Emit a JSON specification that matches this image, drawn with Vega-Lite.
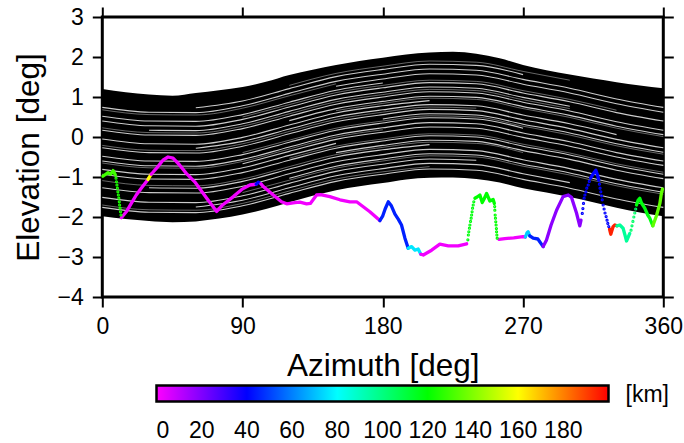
{
  "$schema": "https://vega.github.io/schema/vega-lite/v6.json",
  "width": 561,
  "height": 280,
  "autosize": {"type": "none"},
  "padding": {"left": 102.3, "top": 17, "right": 20.7, "bottom": 146},
  "config": {
    "font": "Liberation Sans",
    "view": {"stroke": "#000", "strokeWidth": 3},
    "axis": {
      "domain": false,
      "grid": false,
      "tickColor": "#000",
      "tickWidth": 2,
      "tickSize": 10,
      "labelColor": "#000",
      "labelFontSize": 23,
      "labelFlush": false,
      "titleFontSize": 31.5,
      "titleFontWeight": "normal",
      "titleColor": "#000"
    }
  },
  "datasets": {
    "band": [
      {"az": 0, "lo": -1.98, "hi": 1.20},
      {"az": 15, "lo": -2.05, "hi": 1.12},
      {"az": 30, "lo": -2.10, "hi": 1.06},
      {"az": 45, "lo": -2.13, "hi": 1.03},
      {"az": 60, "lo": -2.11, "hi": 1.10},
      {"az": 75, "lo": -2.04, "hi": 1.17},
      {"az": 90, "lo": -1.94, "hi": 1.25},
      {"az": 105, "lo": -1.80, "hi": 1.38},
      {"az": 120, "lo": -1.63, "hi": 1.55},
      {"az": 135, "lo": -1.47, "hi": 1.68},
      {"az": 150, "lo": -1.33, "hi": 1.80},
      {"az": 165, "lo": -1.23, "hi": 1.90},
      {"az": 180, "lo": -1.15, "hi": 1.98},
      {"az": 195, "lo": -1.06, "hi": 2.06},
      {"az": 210, "lo": -1.02, "hi": 2.11},
      {"az": 225, "lo": -1.01, "hi": 2.13},
      {"az": 240, "lo": -1.05, "hi": 2.08},
      {"az": 255, "lo": -1.14, "hi": 1.97},
      {"az": 270, "lo": -1.28, "hi": 1.80},
      {"az": 285, "lo": -1.39, "hi": 1.67},
      {"az": 300, "lo": -1.50, "hi": 1.56},
      {"az": 315, "lo": -1.63, "hi": 1.46},
      {"az": 330, "lo": -1.77, "hi": 1.37},
      {"az": 345, "lo": -1.89, "hi": 1.29},
      {"az": 360, "lo": -1.98, "hi": 1.22}
    ],
    "gaps": [
      {"s":1,"az":0,"el":-1.76},{"s":1,"az":30,"el":-1.88},{"s":1,"az":60,"el":-1.89},{"s":1,"az":90,"el":-1.72},{"s":1,"az":120,"el":-1.41},{"s":1,"az":150,"el":-1.11},{"s":1,"az":180,"el":-0.93},{"s":1,"az":210,"el":-0.80},{"s":1,"az":240,"el":-0.83},{"s":1,"az":270,"el":-1.06},{"s":1,"az":300,"el":-1.28},{"s":1,"az":330,"el":-1.55},{"s":1,"az":360,"el":-1.76},
      {"s":2,"az":60,"el":-1.75},{"s":2,"az":90,"el":-1.58},{"s":2,"az":120,"el":-1.27},{"s":2,"az":150,"el":-0.97},{"s":2,"az":180,"el":-0.79},{"s":2,"az":210,"el":-0.66},{"s":2,"az":240,"el":-0.69},{"s":2,"az":270,"el":-0.92},{"s":2,"az":300,"el":-1.14},
      {"s":3,"az":0,"el":-1.51},{"s":3,"az":30,"el":-1.63},{"s":3,"az":60,"el":-1.64},{"s":3,"az":90,"el":-1.47},{"s":3,"az":120,"el":-1.16},{"s":3,"az":150,"el":-0.86},{"s":3,"az":180,"el":-0.68},{"s":3,"az":210,"el":-0.55},{"s":3,"az":240,"el":-0.58},
      {"s":4,"az":120,"el":-1.03},{"s":4,"az":150,"el":-0.73},{"s":4,"az":180,"el":-0.55},{"s":4,"az":210,"el":-0.42},{"s":4,"az":240,"el":-0.45},{"s":4,"az":270,"el":-0.68},{"s":4,"az":300,"el":-0.90},{"s":4,"az":330,"el":-1.17},{"s":4,"az":360,"el":-1.38},
      {"s":5,"az":0,"el":-1.27},{"s":5,"az":30,"el":-1.39},{"s":5,"az":60,"el":-1.40},{"s":5,"az":90,"el":-1.23},{"s":5,"az":120,"el":-0.92},{"s":5,"az":150,"el":-0.62},{"s":5,"az":180,"el":-0.44},{"s":5,"az":210,"el":-0.31},{"s":5,"az":240,"el":-0.34},{"s":5,"az":270,"el":-0.57},{"s":5,"az":300,"el":-0.79},{"s":5,"az":330,"el":-1.06},{"s":5,"az":360,"el":-1.27},
      {"s":6,"az":30,"el":-1.27},{"s":6,"az":60,"el":-1.28},{"s":6,"az":90,"el":-1.11},{"s":6,"az":120,"el":-0.80},{"s":6,"az":150,"el":-0.50},{"s":6,"az":180,"el":-0.32},{"s":6,"az":210,"el":-0.19},
      {"s":7,"az":150,"el":-0.39},{"s":7,"az":180,"el":-0.21},{"s":7,"az":210,"el":-0.08},{"s":7,"az":240,"el":-0.11},{"s":7,"az":270,"el":-0.34},{"s":7,"az":300,"el":-0.56},{"s":7,"az":330,"el":-0.83},{"s":7,"az":360,"el":-1.04},
      {"s":8,"az":0,"el":-0.93},{"s":8,"az":30,"el":-1.05},{"s":8,"az":60,"el":-1.06},{"s":8,"az":90,"el":-0.89},{"s":8,"az":120,"el":-0.58},{"s":8,"az":150,"el":-0.28},{"s":8,"az":180,"el":-0.10},{"s":8,"az":210,"el":0.03},{"s":8,"az":240,"el":0.00},{"s":8,"az":270,"el":-0.23},{"s":8,"az":300,"el":-0.45},{"s":8,"az":330,"el":-0.72},{"s":8,"az":360,"el":-0.93},
      {"s":9,"az":0,"el":-0.81},{"s":9,"az":30,"el":-0.93},{"s":9,"az":60,"el":-0.94},{"s":9,"az":90,"el":-0.77},{"s":9,"az":120,"el":-0.46},{"s":9,"az":150,"el":-0.16},
      {"s":10,"az":90,"el":-0.67},{"s":10,"az":120,"el":-0.36},{"s":10,"az":150,"el":-0.06},{"s":10,"az":180,"el":0.12},{"s":10,"az":210,"el":0.25},{"s":10,"az":240,"el":0.22},{"s":10,"az":270,"el":-0.01},{"s":10,"az":300,"el":-0.23},{"s":10,"az":330,"el":-0.50},{"s":10,"az":360,"el":-0.71},
      {"s":11,"az":0,"el":-0.60},{"s":11,"az":30,"el":-0.72},{"s":11,"az":60,"el":-0.73},{"s":11,"az":90,"el":-0.56},{"s":11,"az":120,"el":-0.25},{"s":11,"az":150,"el":0.05},{"s":11,"az":180,"el":0.23},{"s":11,"az":210,"el":0.36},{"s":11,"az":240,"el":0.33},{"s":11,"az":270,"el":0.10},{"s":11,"az":300,"el":-0.12},{"s":11,"az":330,"el":-0.39},{"s":11,"az":360,"el":-0.60},
      {"s":12,"az":0,"el":-0.48},{"s":12,"az":30,"el":-0.60},{"s":12,"az":60,"el":-0.61},{"s":12,"az":90,"el":-0.44},{"s":12,"az":120,"el":-0.13},{"s":12,"az":150,"el":0.17},{"s":12,"az":180,"el":0.35},{"s":12,"az":210,"el":0.48},{"s":12,"az":240,"el":0.45},{"s":12,"az":270,"el":0.22},
      {"s":13,"az":180,"el":0.45},{"s":13,"az":210,"el":0.58},{"s":13,"az":240,"el":0.55},{"s":13,"az":270,"el":0.32},{"s":13,"az":300,"el":0.10},{"s":13,"az":330,"el":-0.17},{"s":13,"az":360,"el":-0.38},
      {"s":14,"az":0,"el":-0.27},{"s":14,"az":30,"el":-0.39},{"s":14,"az":60,"el":-0.40},{"s":14,"az":90,"el":-0.23},{"s":14,"az":120,"el":0.08},{"s":14,"az":150,"el":0.38},{"s":14,"az":180,"el":0.56},{"s":14,"az":210,"el":0.69},{"s":14,"az":240,"el":0.66},{"s":14,"az":270,"el":0.43},{"s":14,"az":300,"el":0.21},{"s":14,"az":330,"el":-0.06},{"s":14,"az":360,"el":-0.27},
      {"s":15,"az":60,"el":-0.28},{"s":15,"az":90,"el":-0.11},{"s":15,"az":120,"el":0.20},{"s":15,"az":150,"el":0.50},{"s":15,"az":180,"el":0.68},{"s":15,"az":210,"el":0.81},{"s":15,"az":240,"el":0.78},{"s":15,"az":270,"el":0.55},{"s":15,"az":300,"el":0.33},{"s":15,"az":330,"el":0.06},
      {"s":16,"az":0,"el":-0.05},{"s":16,"az":30,"el":-0.17},{"s":16,"az":60,"el":-0.18},{"s":16,"az":90,"el":-0.01},{"s":16,"az":120,"el":0.30},{"s":16,"az":150,"el":0.60},{"s":16,"az":180,"el":0.78},{"s":16,"az":210,"el":0.91},
      {"s":17,"az":120,"el":0.41},{"s":17,"az":150,"el":0.71},{"s":17,"az":180,"el":0.89},{"s":17,"az":210,"el":1.02},{"s":17,"az":240,"el":0.99},{"s":17,"az":270,"el":0.76},{"s":17,"az":300,"el":0.54},{"s":17,"az":330,"el":0.27},{"s":17,"az":360,"el":0.06},
      {"s":18,"az":0,"el":0.17},{"s":18,"az":30,"el":0.05},{"s":18,"az":60,"el":0.04},{"s":18,"az":90,"el":0.21},{"s":18,"az":120,"el":0.52},{"s":18,"az":150,"el":0.82},{"s":18,"az":180,"el":1.00},{"s":18,"az":210,"el":1.13},{"s":18,"az":240,"el":1.10},{"s":18,"az":270,"el":0.87},{"s":18,"az":300,"el":0.65},{"s":18,"az":330,"el":0.38},{"s":18,"az":360,"el":0.17},
      {"s":19,"az":30,"el":0.17},{"s":19,"az":60,"el":0.16},{"s":19,"az":90,"el":0.33},{"s":19,"az":120,"el":0.64},{"s":19,"az":150,"el":0.94},{"s":19,"az":180,"el":1.12},{"s":19,"az":210,"el":1.25},{"s":19,"az":240,"el":1.22},{"s":19,"az":270,"el":0.99},{"s":19,"az":300,"el":0.77},
      {"s":20,"az":0,"el":0.40},{"s":20,"az":30,"el":0.28},{"s":20,"az":60,"el":0.27},{"s":20,"az":90,"el":0.44},{"s":20,"az":120,"el":0.75},{"s":20,"az":150,"el":1.05},{"s":20,"az":180,"el":1.23},{"s":20,"az":210,"el":1.36},{"s":20,"az":240,"el":1.33},{"s":20,"az":270,"el":1.10},{"s":20,"az":300,"el":0.88},{"s":20,"az":330,"el":0.61},{"s":20,"az":360,"el":0.40},
      {"s":21,"az":0,"el":0.52},{"s":21,"az":30,"el":0.40},{"s":21,"az":60,"el":0.39},{"s":21,"az":90,"el":0.56},{"s":21,"az":120,"el":0.87},{"s":21,"az":150,"el":1.17},{"s":21,"az":180,"el":1.35},
      {"s":22,"az":150,"el":1.27},{"s":22,"az":180,"el":1.45},{"s":22,"az":210,"el":1.58},{"s":22,"az":240,"el":1.55},{"s":22,"az":270,"el":1.32},{"s":22,"az":300,"el":1.10},{"s":22,"az":330,"el":0.83},{"s":22,"az":360,"el":0.62},
      {"s":23,"az":0,"el":0.74},{"s":23,"az":30,"el":0.62},{"s":23,"az":60,"el":0.61},{"s":23,"az":90,"el":0.78},{"s":23,"az":120,"el":1.09},{"s":23,"az":150,"el":1.39},{"s":23,"az":180,"el":1.57},{"s":23,"az":210,"el":1.70},{"s":23,"az":240,"el":1.67},{"s":23,"az":270,"el":1.44},{"s":23,"az":300,"el":1.22},{"s":23,"az":330,"el":0.95},{"s":23,"az":360,"el":0.74},
      {"s":24,"az":60,"el":0.73},{"s":24,"az":90,"el":0.90},{"s":24,"az":120,"el":1.21},{"s":24,"az":150,"el":1.51},{"s":24,"az":180,"el":1.69},{"s":24,"az":210,"el":1.82},{"s":24,"az":240,"el":1.79},{"s":24,"az":270,"el":1.56}
    ],
    "gaps_faint": [
      {"s":1,"az":0,"el":-1.70},{"s":1,"az":30,"el":-1.82},{"s":1,"az":60,"el":-1.83},{"s":1,"az":90,"el":-1.66},{"s":1,"az":120,"el":-1.35},{"s":1,"az":150,"el":-1.05},{"s":1,"az":180,"el":-0.87},{"s":1,"az":210,"el":-0.74},
      {"s":2,"az":90,"el":-1.39},{"s":2,"az":120,"el":-1.08},{"s":2,"az":150,"el":-0.78},{"s":2,"az":180,"el":-0.60},{"s":2,"az":210,"el":-0.47},{"s":2,"az":240,"el":-0.50},{"s":2,"az":270,"el":-0.73},{"s":2,"az":300,"el":-0.95},{"s":2,"az":330,"el":-1.22},{"s":2,"az":360,"el":-1.43},
      {"s":3,"az":0,"el":-1.09},{"s":3,"az":30,"el":-1.21},{"s":3,"az":60,"el":-1.22},{"s":3,"az":90,"el":-1.05},{"s":3,"az":120,"el":-0.74},{"s":3,"az":150,"el":-0.44},{"s":3,"az":180,"el":-0.26},{"s":3,"az":210,"el":-0.13},{"s":3,"az":240,"el":-0.16},{"s":3,"az":270,"el":-0.39},
      {"s":4,"az":120,"el":-0.53},{"s":4,"az":150,"el":-0.23},{"s":4,"az":180,"el":-0.05},{"s":4,"az":210,"el":0.08},{"s":4,"az":240,"el":0.05},{"s":4,"az":270,"el":-0.18},{"s":4,"az":300,"el":-0.40},{"s":4,"az":330,"el":-0.67},{"s":4,"az":360,"el":-0.88},
      {"s":5,"az":0,"el":-0.65},{"s":5,"az":30,"el":-0.77},{"s":5,"az":60,"el":-0.78},{"s":5,"az":90,"el":-0.61},{"s":5,"az":120,"el":-0.30},{"s":5,"az":150,"el":0.00},{"s":5,"az":180,"el":0.18},
      {"s":6,"az":90,"el":-0.39},{"s":6,"az":120,"el":-0.08},{"s":6,"az":150,"el":0.22},{"s":6,"az":180,"el":0.40},{"s":6,"az":210,"el":0.53},{"s":6,"az":240,"el":0.50},{"s":6,"az":270,"el":0.27},{"s":6,"az":300,"el":0.05},{"s":6,"az":330,"el":-0.22},{"s":6,"az":360,"el":-0.43},
      {"s":7,"az":0,"el":-0.21},{"s":7,"az":30,"el":-0.33},{"s":7,"az":60,"el":-0.34},{"s":7,"az":90,"el":-0.17},{"s":7,"az":120,"el":0.14},{"s":7,"az":150,"el":0.44},{"s":7,"az":180,"el":0.62},{"s":7,"az":210,"el":0.75},{"s":7,"az":240,"el":0.72},
      {"s":8,"az":150,"el":0.66},{"s":8,"az":180,"el":0.84},{"s":8,"az":210,"el":0.97},{"s":8,"az":240,"el":0.94},{"s":8,"az":270,"el":0.71},{"s":8,"az":300,"el":0.49},{"s":8,"az":330,"el":0.22},{"s":8,"az":360,"el":0.01},
      {"s":9,"az":0,"el":0.23},{"s":9,"az":30,"el":0.11},{"s":9,"az":60,"el":0.10},{"s":9,"az":90,"el":0.27},{"s":9,"az":120,"el":0.58},{"s":9,"az":150,"el":0.88},{"s":9,"az":180,"el":1.06},{"s":9,"az":210,"el":1.19},{"s":9,"az":240,"el":1.16},{"s":9,"az":270,"el":0.93},{"s":9,"az":300,"el":0.71},
      {"s":10,"az":90,"el":0.50},{"s":10,"az":120,"el":0.81},{"s":10,"az":150,"el":1.11},{"s":10,"az":180,"el":1.29},{"s":10,"az":210,"el":1.42},{"s":10,"az":240,"el":1.39},{"s":10,"az":270,"el":1.16},{"s":10,"az":300,"el":0.94},{"s":10,"az":330,"el":0.67},
      {"s":11,"az":0,"el":0.68},{"s":11,"az":30,"el":0.56},{"s":11,"az":60,"el":0.55},{"s":11,"az":90,"el":0.72},{"s":11,"az":120,"el":1.03},{"s":11,"az":150,"el":1.33},
      {"s":12,"az":120,"el":1.29},{"s":12,"az":150,"el":1.59},{"s":12,"az":180,"el":1.77},{"s":12,"az":210,"el":1.90},{"s":12,"az":240,"el":1.87},{"s":12,"az":270,"el":1.64},{"s":12,"az":300,"el":1.42}
    ],
    "horizon": [
      {"seg":1,"az":0.4,"el":-0.98,"km":130},{"seg":1,"az":1.5,"el":-0.95,"km":130},{"seg":1,"az":3.7,"el":-0.89,"km":130},{"seg":1,"az":5.4,"el":-0.93,"km":130},{"seg":1,"az":6.9,"el":-0.84,"km":130},{"seg":1,"az":8.4,"el":-0.95,"km":130},
      {"seg":2,"az":12.2,"el":-2.02,"km":2},{"seg":2,"az":15.4,"el":-1.87,"km":2},{"seg":2,"az":18.6,"el":-1.66,"km":2},{"seg":2,"az":21.8,"el":-1.45,"km":2},{"seg":2,"az":25.0,"el":-1.28,"km":2},{"seg":2,"az":28.2,"el":-1.12,"km":2},{"seg":2,"az":29.3,"el":-1.06,"km":2},
      {"seg":3,"az":29.3,"el":-1.06,"km":160},{"seg":3,"az":31.4,"el":-0.93,"km":160},
      {"seg":4,"az":31.4,"el":-0.93,"km":2},{"seg":4,"az":32.5,"el":-0.88,"km":2},{"seg":4,"az":35.7,"el":-0.74,"km":2},{"seg":4,"az":38.9,"el":-0.58,"km":2},{"seg":4,"az":42.2,"el":-0.50,"km":2},{"seg":4,"az":45.4,"el":-0.53,"km":2},{"seg":4,"az":49.6,"el":-0.70,"km":2},{"seg":4,"az":53.9,"el":-0.91,"km":2},{"seg":4,"az":59.3,"el":-1.12,"km":2},{"seg":4,"az":67.0,"el":-1.53,"km":2},{"seg":4,"az":73.4,"el":-1.86,"km":2},{"seg":4,"az":76.6,"el":-1.72,"km":2},{"seg":4,"az":84.1,"el":-1.49,"km":2},{"seg":4,"az":89.5,"el":-1.31,"km":2},{"seg":4,"az":94.7,"el":-1.20,"km":2},{"seg":4,"az":98.8,"el":-1.18,"km":2},
      {"seg":5,"az":98.8,"el":-1.18,"km":40},{"seg":5,"az":100.1,"el":-1.13,"km":40},{"seg":5,"az":101.8,"el":-1.17,"km":40},
      {"seg":6,"az":101.8,"el":-1.17,"km":2},{"seg":6,"az":103.3,"el":-1.24,"km":2},{"seg":6,"az":109.7,"el":-1.45,"km":2},{"seg":6,"az":115.0,"el":-1.62,"km":2},{"seg":6,"az":118.3,"el":-1.67,"km":2},{"seg":6,"az":123.6,"el":-1.64,"km":2},{"seg":6,"az":126.8,"el":-1.63,"km":2},{"seg":6,"az":131.1,"el":-1.67,"km":2},{"seg":6,"az":133.5,"el":-1.66,"km":2},{"seg":6,"az":137.5,"el":-1.45,"km":2},{"seg":6,"az":140.0,"el":-1.44,"km":2},{"seg":6,"az":146.0,"el":-1.49,"km":2},{"seg":6,"az":152.5,"el":-1.57,"km":2},{"seg":6,"az":158.9,"el":-1.62,"km":2},{"seg":6,"az":163.2,"el":-1.62,"km":2},{"seg":6,"az":171.7,"el":-1.87,"km":2},{"seg":6,"az":178.1,"el":-2.09,"km":2},
      {"seg":7,"az":178.1,"el":-2.09,"km":45},{"seg":7,"az":180.0,"el":-1.97,"km":45},{"seg":7,"az":181.5,"el":-1.80,"km":45},{"seg":7,"az":183.5,"el":-1.62,"km":45},{"seg":7,"az":185.5,"el":-1.72,"km":45},{"seg":7,"az":187.8,"el":-1.93,"km":45},{"seg":7,"az":190.0,"el":-2.06,"km":45},{"seg":7,"az":192.0,"el":-2.20,"km":45},{"seg":7,"az":194.2,"el":-2.53,"km":45},{"seg":7,"az":196.3,"el":-2.78,"km":45},
      {"seg":8,"az":196.3,"el":-2.78,"km":76},{"seg":8,"az":198.5,"el":-2.74,"km":76},{"seg":8,"az":200.6,"el":-2.83,"km":76},{"seg":8,"az":202.7,"el":-2.80,"km":76},{"seg":8,"az":204.4,"el":-2.93,"km":76},
      {"seg":9,"az":204.4,"el":-2.93,"km":2},{"seg":9,"az":206.0,"el":-2.95,"km":2},{"seg":9,"az":211.3,"el":-2.83,"km":2},{"seg":9,"az":216.6,"el":-2.68,"km":2},{"seg":9,"az":222.0,"el":-2.72,"km":2},{"seg":9,"az":228.4,"el":-2.72,"km":2},{"seg":9,"az":233.8,"el":-2.67,"km":2},
      {"seg":10,"az":239.1,"el":-1.53,"km":120},{"seg":10,"az":240.5,"el":-1.50,"km":120},{"seg":10,"az":242.3,"el":-1.45,"km":120},{"seg":10,"az":243.8,"el":-1.64,"km":120},{"seg":10,"az":245.0,"el":-1.55,"km":120},{"seg":10,"az":246.6,"el":-1.41,"km":120},{"seg":10,"az":248.7,"el":-1.60,"km":120},{"seg":10,"az":250.8,"el":-1.56,"km":120},{"seg":10,"az":251.6,"el":-1.66,"km":120},
      {"seg":11,"az":254.5,"el":-2.56,"km":2},{"seg":11,"az":258.3,"el":-2.54,"km":2},{"seg":11,"az":264.0,"el":-2.52,"km":2},{"seg":11,"az":270.0,"el":-2.49,"km":2},{"seg":11,"az":271.5,"el":-2.50,"km":2},
      {"seg":12,"az":271.5,"el":-2.50,"km":72},{"seg":12,"az":272.5,"el":-2.40,"km":72},{"seg":12,"az":273.3,"el":-2.37,"km":72},{"seg":12,"az":274.3,"el":-2.47,"km":72},
      {"seg":13,"az":274.3,"el":-2.47,"km":45},{"seg":13,"az":276.5,"el":-2.53,"km":45},{"seg":13,"az":279.5,"el":-2.55,"km":45},{"seg":13,"az":282.9,"el":-2.74,"km":45},
      {"seg":14,"az":282.9,"el":-2.74,"km":18},{"seg":14,"az":285.0,"el":-2.58,"km":18},{"seg":14,"az":288.0,"el":-2.20,"km":18},{"seg":14,"az":291.5,"el":-1.83,"km":18},{"seg":14,"az":295.7,"el":-1.49,"km":18},{"seg":14,"az":299.0,"el":-1.45,"km":18},{"seg":14,"az":301.1,"el":-1.51,"km":18},{"seg":14,"az":304.3,"el":-1.90,"km":18},{"seg":14,"az":306.4,"el":-2.22,"km":18},{"seg":14,"az":307.2,"el":-2.08,"km":18},
      {"seg":15,"az":313.3,"el":-1.03,"km":40},{"seg":15,"az":315.0,"el":-0.92,"km":40},{"seg":15,"az":316.7,"el":-0.83,"km":40},{"seg":15,"az":317.8,"el":-0.95,"km":40},{"seg":15,"az":318.6,"el":-1.08,"km":40},
      {"seg":16,"az":325.5,"el":-2.30,"km":195},{"seg":16,"az":326.3,"el":-2.43,"km":195},{"seg":16,"az":327.8,"el":-2.24,"km":195},{"seg":16,"az":328.9,"el":-2.20,"km":195},{"seg":16,"az":330.2,"el":-2.22,"km":195},
      {"seg":17,"az":330.2,"el":-2.22,"km":96},{"seg":17,"az":332.1,"el":-2.20,"km":96},{"seg":17,"az":334.2,"el":-2.28,"km":96},{"seg":17,"az":335.4,"el":-2.45,"km":96},{"seg":17,"az":336.4,"el":-2.60,"km":96},{"seg":17,"az":338.5,"el":-2.41,"km":96},
      {"seg":18,"az":342.8,"el":-1.70,"km":118},{"seg":18,"az":343.8,"el":-1.58,"km":118},{"seg":18,"az":344.9,"el":-1.53,"km":118},{"seg":18,"az":346.0,"el":-1.65,"km":118},{"seg":18,"az":348.1,"el":-1.78,"km":118},{"seg":18,"az":350.0,"el":-1.95,"km":118},{"seg":18,"az":351.3,"el":-2.03,"km":118},{"seg":18,"az":353.3,"el":-2.22,"km":118},
      {"seg":19,"az":353.3,"el":-2.22,"km":135},{"seg":19,"az":355.6,"el":-1.97,"km":135},{"seg":19,"az":357.8,"el":-1.66,"km":135},{"seg":19,"az":358.8,"el":-1.40,"km":135},{"seg":19,"az":359.5,"el":-1.30,"km":135}
    ],
    "horizon_sparse": [
      {"az":8.8,"el":-1.03,"km":124},{"az":9.1,"el":-1.12,"km":124},{"az":9.4,"el":-1.20,"km":124},{"az":9.7,"el":-1.28,"km":124},{"az":10.0,"el":-1.37,"km":124},{"az":10.3,"el":-1.45,"km":124},{"az":10.6,"el":-1.53,"km":124},{"az":10.9,"el":-1.62,"km":124},{"az":11.1,"el":-1.70,"km":124},{"az":11.4,"el":-1.78,"km":124},{"az":11.7,"el":-1.87,"km":124},{"az":12.0,"el":-1.95,"km":124},
      {"az":234.6,"el":-2.57,"km":118},{"az":234.9,"el":-2.45,"km":118},{"az":235.2,"el":-2.37,"km":118},{"az":235.6,"el":-2.28,"km":118},{"az":235.9,"el":-2.20,"km":118},{"az":236.3,"el":-2.11,"km":118},{"az":236.7,"el":-2.03,"km":118},{"az":237.0,"el":-1.95,"km":118},{"az":237.3,"el":-1.87,"km":118},{"az":237.6,"el":-1.78,"km":118},{"az":238.0,"el":-1.70,"km":118},{"az":238.4,"el":-1.62,"km":118},
      {"az":251.8,"el":-1.74,"km":120},{"az":251.9,"el":-1.83,"km":120},{"az":252.1,"el":-1.95,"km":120},{"az":252.3,"el":-2.03,"km":120},{"az":252.5,"el":-2.12,"km":120},{"az":252.7,"el":-2.20,"km":120},{"az":252.9,"el":-2.29,"km":120},{"az":253.0,"el":-2.37,"km":120},{"az":253.2,"el":-2.45,"km":120},{"az":253.4,"el":-2.53,"km":120},
      {"az":308.0,"el":-1.91,"km":40},{"az":308.4,"el":-1.79,"km":40},{"az":308.8,"el":-1.66,"km":40},{"az":309.2,"el":-1.53,"km":40},{"az":309.7,"el":-1.45,"km":40},{"az":310.3,"el":-1.37,"km":40},{"az":310.9,"el":-1.28,"km":40},{"az":311.8,"el":-1.20,"km":40},{"az":312.5,"el":-1.11,"km":40},
      {"az":319.0,"el":-1.18,"km":40},{"az":319.4,"el":-1.28,"km":40},{"az":319.9,"el":-1.37,"km":40},{"az":320.4,"el":-1.47,"km":40},{"az":320.8,"el":-1.57,"km":40},{"az":321.4,"el":-1.70,"km":40},{"az":322.0,"el":-1.80,"km":40},{"az":322.6,"el":-1.90,"km":40},{"az":323.3,"el":-1.99,"km":40},{"az":323.9,"el":-2.08,"km":40},{"az":324.4,"el":-2.16,"km":40},{"az":325.0,"el":-2.24,"km":40},
      {"az":339.3,"el":-2.33,"km":104},{"az":339.9,"el":-2.22,"km":104},{"az":340.5,"el":-2.11,"km":104},{"az":341.1,"el":-2.00,"km":104},{"az":341.7,"el":-1.90,"km":104},{"az":342.3,"el":-1.80,"km":104}
    ]
  },
  "layer": [
    {
      "data": {"name": "band"},
      "mark": {"type": "area", "color": "#000", "opacity": 1, "interpolate": "monotone"},
      "encoding": {
        "x": {
          "field": "az", "type": "quantitative",
          "scale": {"domain": [0, 360], "nice": false, "zero": false},
          "axis": {"orient": "bottom", "values": [0, 90, 180, 270, 360], "title": "Azimuth [deg]", "labelPadding": 8, "titlePadding": 12}
        },
        "y": {
          "field": "lo", "type": "quantitative",
          "scale": {"domain": [-4, 3], "nice": false, "zero": false},
          "axis": {"orient": "left", "values": [-4, -3, -2, -1, 0, 1, 2, 3], "title": "Elevation [deg]", "labelPadding": 9, "titlePadding": 12}
        },
        "y2": {"field": "hi"}
      }
    },
    {
      "data": {"name": "gaps_faint"},
      "mark": {"type": "line", "color": "#fff", "strokeWidth": 0.8, "opacity": 0.5, "interpolate": "monotone"},
      "encoding": {
        "x": {"field": "az", "type": "quantitative", "axis": null},
        "y": {"field": "el", "type": "quantitative", "axis": null},
        "detail": {"field": "s", "type": "nominal"}
      }
    },
    {
      "data": {"name": "gaps"},
      "mark": {"type": "line", "color": "#fff", "strokeWidth": 1.1, "opacity": 0.8, "interpolate": "monotone"},
      "encoding": {
        "x": {"field": "az", "type": "quantitative", "axis": {"orient": "top", "values": [0, 90, 180, 270, 360], "labels": false, "title": null}},
        "y": {"field": "el", "type": "quantitative", "axis": {"orient": "right", "values": [-4, -3, -2, -1, 0, 1, 2, 3], "labels": false, "title": null}},
        "detail": {"field": "s", "type": "nominal"}
      }
    },
    {
      "data": {"name": "horizon"},
      "mark": {"type": "line", "strokeWidth": 3.3, "strokeCap": "round", "strokeJoin": "round"},
      "encoding": {
        "x": {"field": "az", "type": "quantitative", "axis": null},
        "y": {"field": "el", "type": "quantitative", "axis": null},
        "detail": {"field": "seg", "type": "nominal"},
        "color": {
          "field": "km", "type": "quantitative",
          "scale": {"domain": [0, 40, 80, 120, 160, 200], "range": ["#ff00ff", "#0000ff", "#00ffff", "#00ff00", "#ffff00", "#ff0000"], "interpolate": "rgb"},
          "legend": {
            "type": "gradient",
            "title": "[km]",
            "orient": "none",
            "legendX": 54.2,
            "legendY": 368.6,
            "direction": "horizontal",
            "padding": 0,
            "gradientLength": 452,
            "gradientThickness": 16,
            "gradientStrokeColor": "#000",
            "gradientStrokeWidth": 2.5,
            "values": [0, 20, 40, 60, 80, 100, 120, 140, 160, 180],
            "labelFontSize": 23,
            "labelColor": "#000",
            "labelOffset": 18,
            "labelAlign": "center",
            "labelOverlap": false,
            "titleOrient": "right",
            "titleFontSize": 23,
            "titleFontWeight": "normal",
            "titleColor": "#000",
            "titlePadding": 16
          }
        }
      }
    },
    {
      "data": {"name": "horizon_sparse"},
      "mark": {"type": "point", "filled": false, "size": 1.5, "strokeWidth": 2, "opacity": 1},
      "encoding": {
        "x": {"field": "az", "type": "quantitative", "axis": null},
        "y": {"field": "el", "type": "quantitative", "axis": null},
        "color": {
          "field": "km", "type": "quantitative",
          "scale": {"domain": [0, 40, 80, 120, 160, 200], "range": ["#ff00ff", "#0000ff", "#00ffff", "#00ff00", "#ffff00", "#ff0000"], "interpolate": "rgb"}
        }
      }
    }
  ],
  "resolve": {"axis": {"x": "independent", "y": "independent"}}
}
